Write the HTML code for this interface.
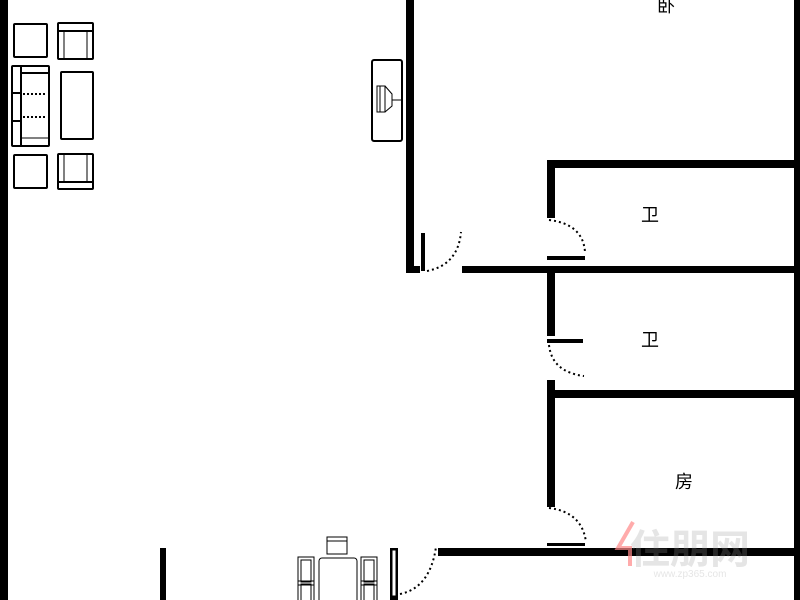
<!DOCTYPE html>
<html><head><meta charset="utf-8"><style>
html,body{margin:0;padding:0;background:#fff;width:800px;height:600px;overflow:hidden}
svg{display:block}
text{font-family:"Liberation Sans","Noto Sans CJK SC",sans-serif}
</style></head><body>
<svg width="800" height="600" viewBox="0 0 800 600" xmlns="http://www.w3.org/2000/svg">
<g fill="#000">
<!-- main walls -->
<rect x="0" y="0" width="8" height="600"/>
<rect x="406" y="0" width="8" height="273"/>
<rect x="406" y="266" width="14" height="7"/>
<rect x="462" y="266" width="338" height="7"/>
<rect x="794" y="0" width="6" height="600"/>
<rect x="547" y="160" width="253" height="8"/>
<rect x="547" y="160" width="8" height="58"/>
<rect x="547" y="266" width="8" height="70"/>
<rect x="547" y="380" width="8" height="127"/>
<rect x="547" y="390" width="253" height="8"/>
<rect x="438" y="548" width="362" height="8"/>
<rect x="160" y="548" width="6" height="52"/>
<rect x="390" y="548" width="8" height="52"/>
<!-- door leaves -->
<rect x="421" y="233" width="4" height="38"/>
<rect x="547" y="256" width="38" height="4"/>
<rect x="547" y="339" width="36" height="4"/>
<rect x="547" y="543" width="38" height="3"/>
</g>
<g fill="none" stroke="#000" stroke-width="2" stroke-dasharray="2,3">
<path d="M427 271 Q458 265 461 232"/>
<path d="M549 220 Q583 224 585 252"/>
<path d="M549 345 Q552 372 584 376"/>
<path d="M549 508 Q582 512 586 542"/>
<path d="M400 594 Q430 588 436 547"/>
</g>
<g fill="none" stroke="#000" stroke-width="2">
<!-- living furniture -->
<rect x="14" y="24" width="33" height="33" rx="1"/>
<rect x="58" y="23" width="35" height="36" rx="1"/>
<line x1="58" y1="31" x2="93" y2="31"/>
<rect x="12" y="66" width="37" height="80" rx="1"/>
<line x1="21" y1="66" x2="21" y2="146"/>
<line x1="21" y1="73" x2="49" y2="73"/>
<line x1="12" y1="93" x2="21" y2="93"/>
<line x1="12" y1="121" x2="21" y2="121"/>
<rect x="61" y="72" width="32" height="67" rx="1"/>
<rect x="14" y="155" width="33" height="33" rx="1"/>
<rect x="58" y="154" width="35" height="35" rx="1"/>
<line x1="58" y1="182" x2="93" y2="182"/>
<rect x="372" y="60" width="30" height="81" rx="2"/>
</g>
<g fill="none" stroke="#000" stroke-width="1">
<line x1="64" y1="31" x2="64" y2="59"/><line x1="87" y1="31" x2="87" y2="59"/>
<line x1="64" y1="154" x2="64" y2="182"/><line x1="87" y1="154" x2="87" y2="182"/>
<line x1="21" y1="138" x2="49" y2="138"/>
<path d="M377 86 h8 v26 h-8 z M380 86 v26 M385 86 l7 8 v12 l-7 6 M392 100 h10"/>
<!-- dining -->
<rect x="327" y="537" width="20" height="17"/><line x1="327" y1="541" x2="347" y2="541"/>
<rect x="319" y="558" width="38" height="45" rx="3"/>
<rect x="298" y="557" width="16" height="28"/><rect x="301" y="560" width="10" height="22"/>
<rect x="298" y="581" width="16" height="22"/><rect x="301" y="584" width="10" height="18"/>
<rect x="361" y="557" width="16" height="28"/><rect x="364" y="560" width="10" height="22"/>
<rect x="361" y="581" width="16" height="22"/><rect x="364" y="584" width="10" height="18"/>
<rect x="392" y="550" width="4" height="46" fill="#fff"/>
</g>
<g stroke="#000" stroke-width="2" stroke-dasharray="2,2">
<line x1="23" y1="94" x2="47" y2="94"/><line x1="23" y1="117" x2="47" y2="117"/>
</g>
<g font-size="18" fill="#000" text-anchor="middle">
<text x="666" y="12">卧</text>
<text x="650" y="221">卫</text>
<text x="650" y="346">卫</text>
<text x="684" y="488">房</text>
</g>
<g opacity="0.25">
<text x="690" y="563" font-size="40" fill="#999" text-anchor="middle" font-weight="bold">住朋网</text>
<text x="690" y="577" font-size="10" fill="#999" text-anchor="middle">www.zp365.com</text>
</g>
<path d="M633 522 L618 548 L630 548 L630 566" stroke="#f88" stroke-width="4" fill="none" opacity="0.7"/>
</svg>
</body></html>
